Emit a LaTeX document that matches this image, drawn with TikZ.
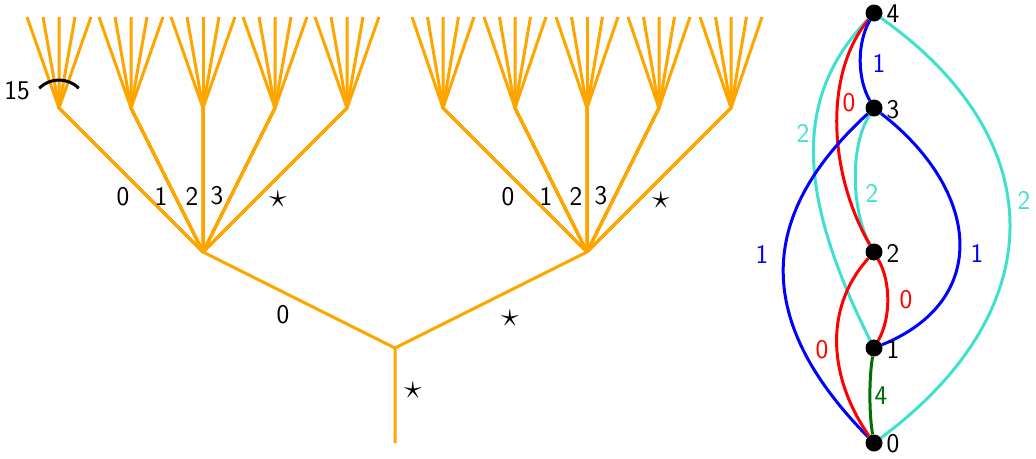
\documentclass[tikz,border=0pt]{standalone}
\usepackage{fontspec}
\usepackage{graphicx}
\definecolor{treeorange}{RGB}{255,165,0}
\definecolor{turq}{RGB}{64,224,208}
\definecolor{dgreen}{RGB}{0,110,0}
\newcommand{\bigstarlab}{\scalebox{1.4}{$\star$}}
\begin{document}
\begin{tikzpicture}[x=1pt,y=-1pt,
  tree/.style={draw=treeorange, line width=3pt, line join=round},
  lab/.style={font=\sffamily\fontsize{27}{32}\selectfont, inner sep=0pt},
  vert/.style={circle, inner sep=0pt, minimum size=17pt},
  gedge/.style={line width=3pt},
]
\path[use as bounding box] (0,0) rectangle (1036,458);

% ---------- tree ----------
\coordinate (base) at (395,443);
\coordinate (r) at (395,348);
\coordinate (a) at (203,252);
\coordinate (b) at (587,252);
\draw[tree] (base) -- (r) -- (a);
\draw[tree] (r) -- (b);
\foreach \i/\x in {0/59,1/131,2/203,3/275,4/347} {
  \coordinate (a\i) at (\x,108);
  \foreach \j/\d in {0/-32,1/-16,2/0,3/16,4/32} {
    \coordinate (a\i t\j) at (\x+\d,17);
    \draw[tree] (a) -- (a\i) -- (a\i t\j);
  }
}
\foreach \i/\x in {0/443,1/515,2/587,3/659,4/731} {
  \coordinate (b\i) at (\x,108);
  \foreach \j/\d in {0/-31,1/-15.5,2/0,3/15.5,4/31} {
    \coordinate (b\i t\j) at (\x+\d,17);
    \draw[tree] (b) -- (b\i) -- (b\i t\j);
  }
}
% arc with label 15
\coordinate (arcA) at (39.2,88.2);
\coordinate (arcB) at (78.8,88.2);
\draw[line width=3pt] (arcA) .. controls (50.1,77.3) and (67.9,77.3) .. (arcB);
\node[lab] (l15) at (17,91) {15};

% tree labels
\node[lab] (la0) at (123,197) {0};
\node[lab] (la1) at (161,196) {1};
\node[lab] (la2) at (192,196) {2};
\node[lab] (la3) at (217,196) {3};
\node[lab] (la4) at (278,199) {\bigstarlab};
\node[lab] (lb0) at (508,197) {0};
\node[lab] (lb1) at (546,196) {1};
\node[lab] (lb2) at (576,196) {2};
\node[lab] (lb3) at (601,196) {3};
\node[lab] (lb4) at (661,200) {\bigstarlab};
\node[lab] (lra) at (283,315) {0};
\node[lab] (lrb) at (510,318) {\bigstarlab};
\node[lab] (lroot) at (413,390) {\bigstarlab};

% ---------- graph ----------
\node[vert] (v4) at (874,13) {};
\node[vert] (v3) at (874,108) {};
\node[vert] (v2) at (874,252) {};
\node[vert] (v1) at (874,348) {};
\node[vert] (v0) at (874,443) {};

\draw[gedge, turq] (v4) .. controls +(-84,87) and +(-74,-148) .. (v1);
\draw[gedge, turq] (v4) .. controls +(179,127) and +(179,-133) .. (v0);
\draw[gedge, turq] (v3) .. controls +(-25,40) and +(-22,-40) .. (v2);
\draw[gedge, red] (v4) .. controls +(-50,60) and +(-46,-80) .. (v2);
\draw[gedge, blue] (v4) .. controls +(-17,30) and +(-17,-30) .. (v3);
\draw[gedge, blue] (v3) .. controls +(-120,110) and +(-118,-120) .. (v0);
\draw[gedge, blue] (v3) .. controls +(106,82) and +(118,-48) .. (v1);
\draw[gedge, red] (v2) .. controls +(17,30) and +(17,-30) .. (v1);
\draw[gedge, red] (v2) .. controls +(-52,58) and +(-44,-63) .. (v0);
\draw[gedge, dgreen] (v1) .. controls +(-5,30) and +(-5,-30) .. (v0);

\foreach \v in {v0,v1,v2,v3,v4} { \fill (\v) circle (8.5); }

\node[lab] (n4) at (893,14) {4};
\node[lab] (n3) at (893,110) {3};
\node[lab] (n2) at (893,253) {2};
\node[lab] (n1) at (893,349) {1};
\node[lab] (n0) at (893,444) {0};

\node[lab, text=blue] (e43) at (879,63) {1};
\node[lab, text=red] (e42) at (849,103) {0};
\node[lab, text=turq] (e41) at (803,133) {2};
\node[lab, text=turq] (e32) at (872,193) {2};
\node[lab, text=turq] (e40) at (1024,200) {2};
\node[lab, text=blue] (e30) at (762,254) {1};
\node[lab, text=blue] (e31) at (977,253) {1};
\node[lab, text=red] (e21) at (906,300) {0};
\node[lab, text=red] (e20) at (822,350) {0};
\node[lab, text=dgreen] (e10) at (881,396) {4};
\end{tikzpicture}
\end{document}
